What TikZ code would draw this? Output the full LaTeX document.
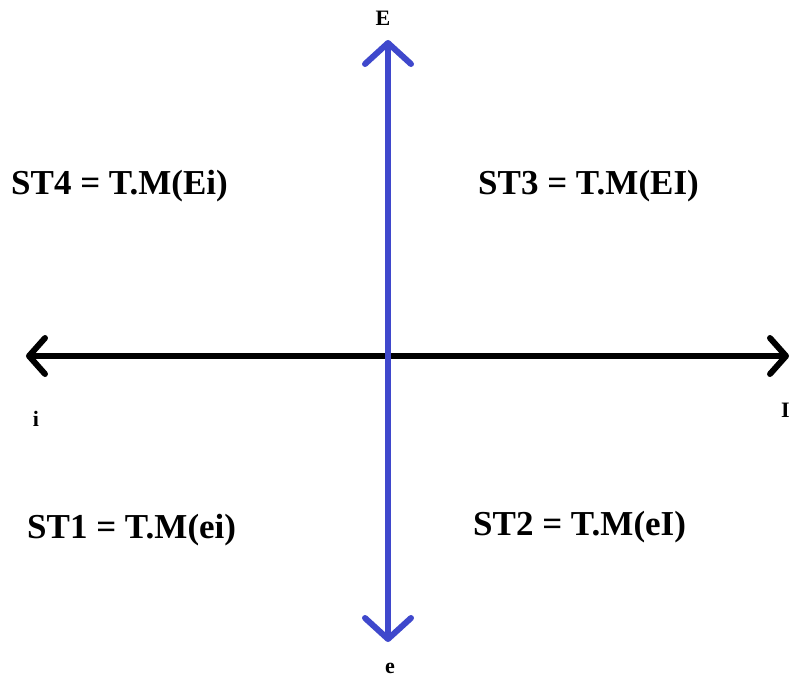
\documentclass[tikz,border=0pt]{standalone}
\usepackage{fontspec}
\setmainfont{Liberation Serif}
\usetikzlibrary{arrows.meta}
\definecolor{axisblue}{RGB}{63,72,204}
\tikzset{chevh/.tip={Straight Barb[length=16pt,width=36pt,line cap=round,line join=round]},
  chevv/.tip={Straight Barb[length=21pt,width=46pt,line cap=round,line join=round]}}
\begin{document}
\begin{tikzpicture}[x=1pt,y=-1pt,
  axisline/.style={line width=6pt,line cap=round},
  bigtext/.style={font=\bfseries\fontsize{35}{40}\selectfont,inner sep=0pt,anchor=west},
  axlabel/.style={font=\bfseries\fontsize{22}{26}\selectfont,inner sep=0pt}]
\useasboundingbox[fill=white] (0,0) rectangle (790,678);
\coordinate (Etip) at (388,40);
\coordinate (etip) at (388,642);
\coordinate (itip) at (26,356);
\coordinate (Itip) at (789,356);
\draw[axisline,black,chevh-chevh] (itip) -- (Itip);
\draw[axisline,axisblue,chevv-chevv] (etip) -- (Etip);
\node[axlabel] (E) at (383,18) {E};
\node[axlabel] (e) at (390,668) {e};
\node[axlabel] (i) at (36,419) {i};
\node[axlabel,anchor=west] (I) at (781,410) {I};
\node[bigtext] (st4) at (11,186) {ST4 = T.M(Ei)};
\node[bigtext] (st3) at (478,186) {ST3 = T.M(EI)};
\node[bigtext] (st1) at (27,530) {ST1 = T.M(ei)};
\node[bigtext] (st2) at (473,527) {ST2 = T.M(eI)};
\end{tikzpicture}
\end{document}
